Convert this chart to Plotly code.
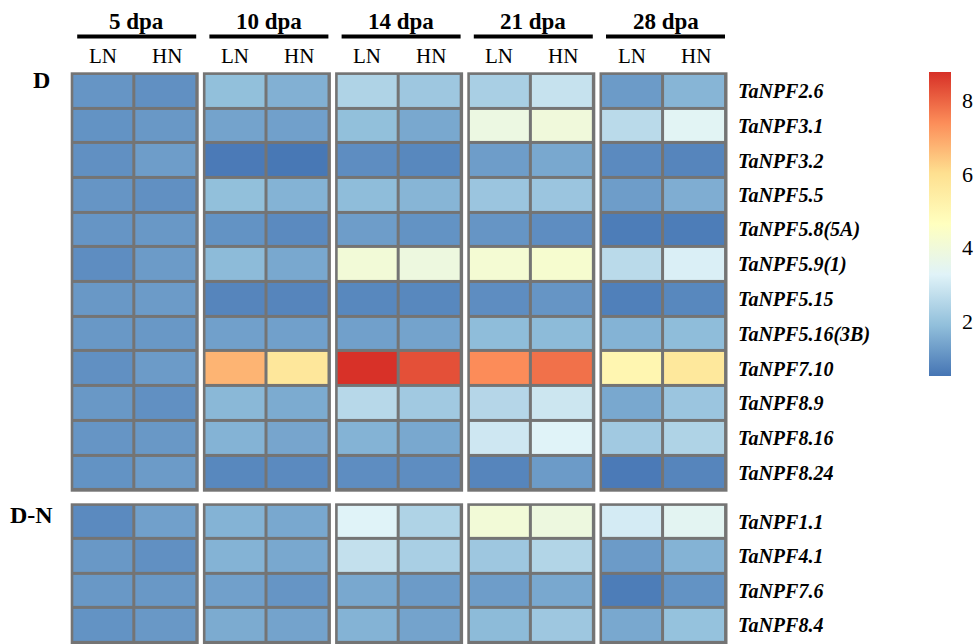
import plotly.graph_objects as go

# ---------------- data ----------------
stages = ["5 dpa", "10 dpa", "14 dpa", "21 dpa", "28 dpa"]
treatments = ["LN", "HN"]
sections = ["D", "D-N"]

genes_D = ["TaNPF2.6", "TaNPF3.1", "TaNPF3.2", "TaNPF5.5", "TaNPF5.8(5A)", "TaNPF5.9(1)",
           "TaNPF5.15", "TaNPF5.16(3B)", "TaNPF7.10", "TaNPF8.9", "TaNPF8.16", "TaNPF8.24"]
genes_DN = ["TaNPF1.1", "TaNPF4.1", "TaNPF7.6", "TaNPF8.4"]

# columns: 5LN 5HN 10LN 10HN 14LN 14HN 21LN 21HN 28LN 28HN
expr_D = [
    [1.10, 1.00, 1.90, 1.60, 2.40, 2.10, 2.30, 2.80, 1.20, 1.70],
    [1.05, 1.15, 1.35, 1.30, 1.90, 1.45, 3.80, 3.95, 2.60, 3.35],
    [1.00, 1.25, 0.60, 0.55, 0.95, 0.85, 1.25, 1.45, 0.90, 0.80],
    [1.10, 1.00, 1.90, 1.65, 1.85, 1.70, 2.05, 2.05, 1.25, 1.55],
    [1.10, 1.15, 1.05, 0.90, 1.25, 1.05, 1.10, 0.95, 0.65, 0.65],
    [0.95, 1.20, 1.80, 1.45, 4.05, 3.85, 4.15, 4.25, 2.60, 3.15],
    [1.15, 1.20, 0.80, 0.80, 0.85, 0.85, 0.95, 1.10, 0.70, 0.85],
    [1.15, 1.15, 1.30, 1.30, 1.30, 1.35, 1.85, 1.80, 1.65, 1.85],
    [1.00, 1.20, 6.75, 5.70, 8.75, 8.30, 7.40, 7.80, 5.05, 5.65],
    [1.15, 1.00, 1.75, 1.50, 2.55, 2.15, 2.50, 2.90, 1.45, 2.05],
    [1.10, 1.15, 1.65, 1.40, 1.65, 1.45, 2.95, 3.25, 2.15, 2.40],
    [1.05, 1.20, 0.85, 0.90, 0.95, 0.95, 0.80, 1.20, 0.60, 0.80],
]
expr_DN = [
    [0.90, 1.30, 1.65, 1.45, 3.25, 2.40, 4.05, 3.85, 3.05, 3.40],
    [1.15, 1.00, 1.65, 1.45, 2.75, 2.30, 2.10, 2.45, 1.20, 1.65],
    [1.15, 1.15, 1.30, 1.10, 1.45, 1.20, 1.25, 1.45, 0.65, 1.05],
    [1.05, 1.15, 1.50, 1.35, 1.65, 1.35, 1.80, 2.10, 1.45, 1.95],
]

colorbar_ticks = [2, 4, 6, 8]
zmin, zmax = 0.5, 8.77

# ---------------- layout helpers ----------------
W, H = 976, 644
def px(x):
    return x / W
def py(y):
    return 1 - y / H

block_left = [70.7 + i * 132.2 for i in range(5)]
block_w = 128.0
sec_top = [72.3, 503.3]
sec_bot = [491.7, 644.0]

FONT = "Liberation Serif"
palette = ["#4575B4", "#91BFDB", "#E0F3F8", "#FFFFBF", "#FEE090", "#FC8D59", "#D73027"]
colorscale = [[i / 6, c] for i, c in enumerate(palette)]

fig = go.Figure()
sec_data = [(genes_D, expr_D), (genes_DN, expr_DN)]

ex = 1.6 / 64.0
for s, (genes, expr) in enumerate(sec_data):
    n = len(genes)
    ey = 1.6 / ((sec_bot[s] - sec_top[s]) / n)
    for b in range(5):
        axn = s * 5 + b + 1
        xa = "x" if axn == 1 else f"x{axn}"
        ya = "y" if axn == 1 else f"y{axn}"
        z = [row[2 * b:2 * b + 2] for row in expr]
        fig.add_trace(go.Heatmap(
            z=z, x=[0, 1], y=list(range(n)), xaxis=xa, yaxis=ya,
            coloraxis="coloraxis", xgap=3, ygap=3,
            hovertemplate="%{z:.2f}<extra></extra>"))
        key = "" if axn == 1 else str(axn)
        fig.layout["xaxis" + key] = dict(
            domain=[px(block_left[b]), px(block_left[b] + block_w)],
            range=[-0.5 - ex, 1.5 + ex], anchor=ya, visible=False, fixedrange=True)
        fig.layout["yaxis" + key] = dict(
            domain=[py(sec_bot[s]), py(sec_top[s])],
            range=[n - 0.5 + ey, -0.5 - ey], anchor=xa, visible=False, fixedrange=True)

annotations = []
shapes = []
for b, st in enumerate(stages):
    cx = block_left[b] + block_w / 2 + 2
    annotations.append(dict(x=px(cx), y=py(21), xref="paper", yref="paper", text=f"<b>{st}</b>",
                            showarrow=False, font=dict(family=FONT, size=23, color="black"),
                            xanchor="center", yanchor="middle"))
    shapes.append(dict(type="line", xref="paper", yref="paper",
                       x0=px(cx - 59.5), x1=px(cx + 59.5), y0=py(36.5), y1=py(36.5),
                       line=dict(color="black", width=4)))
    for t, tr in enumerate(treatments):
        ccx = block_left[b] + block_w * (0.25 + 0.5 * t)
        annotations.append(dict(x=px(ccx), y=py(56), xref="paper", yref="paper", text=tr,
                                showarrow=False, font=dict(family=FONT, size=21, color="black"),
                                xanchor="center", yanchor="middle"))

sec_label_pos = [(41, 80), (31, 515)]
for s, lab in enumerate(sections):
    annotations.append(dict(x=px(sec_label_pos[s][0]), y=py(sec_label_pos[s][1]), xref="paper",
                            yref="paper", text=f"<b>{lab}</b>", showarrow=False,
                            font=dict(family=FONT, size=24, color="black"),
                            xanchor="center", yanchor="middle"))

for s, (genes, expr) in enumerate(sec_data):
    yref = "y" if s == 0 else "y6"
    for i, g in enumerate(genes):
        annotations.append(dict(x=px(736), y=i, xref="paper", yref=yref,
                                text=f"<b><i>{g}</i></b>", showarrow=False,
                                font=dict(family=FONT, size=20, color="black"),
                                xanchor="left", yanchor="middle"))

fig.update_layout(
    width=W, height=H,
    margin=dict(l=0, r=0, t=0, b=0),
    paper_bgcolor="white",
    plot_bgcolor="#747474",
    showlegend=False,
    annotations=annotations,
    shapes=shapes,
    coloraxis=dict(
        colorscale=colorscale, cmin=zmin, cmax=zmax,
        colorbar=dict(
            x=px(929), xanchor="left", y=py(72), yanchor="top",
            len=(376 - 72) / H, lenmode="fraction", thickness=22, thicknessmode="pixels",
            outlinewidth=0, tickvals=colorbar_ticks, ticks="outside", ticklen=7,
            tickcolor="rgba(0,0,0,0)",
            tickfont=dict(family=FONT, size=22, color="black"), xpad=0, ypad=0,
        ),
    ),
)

fig.write_html("out.html", config={"displayModeBar": False},
               post_script="document.body.style.margin='0';document.body.style.overflow='hidden';")
